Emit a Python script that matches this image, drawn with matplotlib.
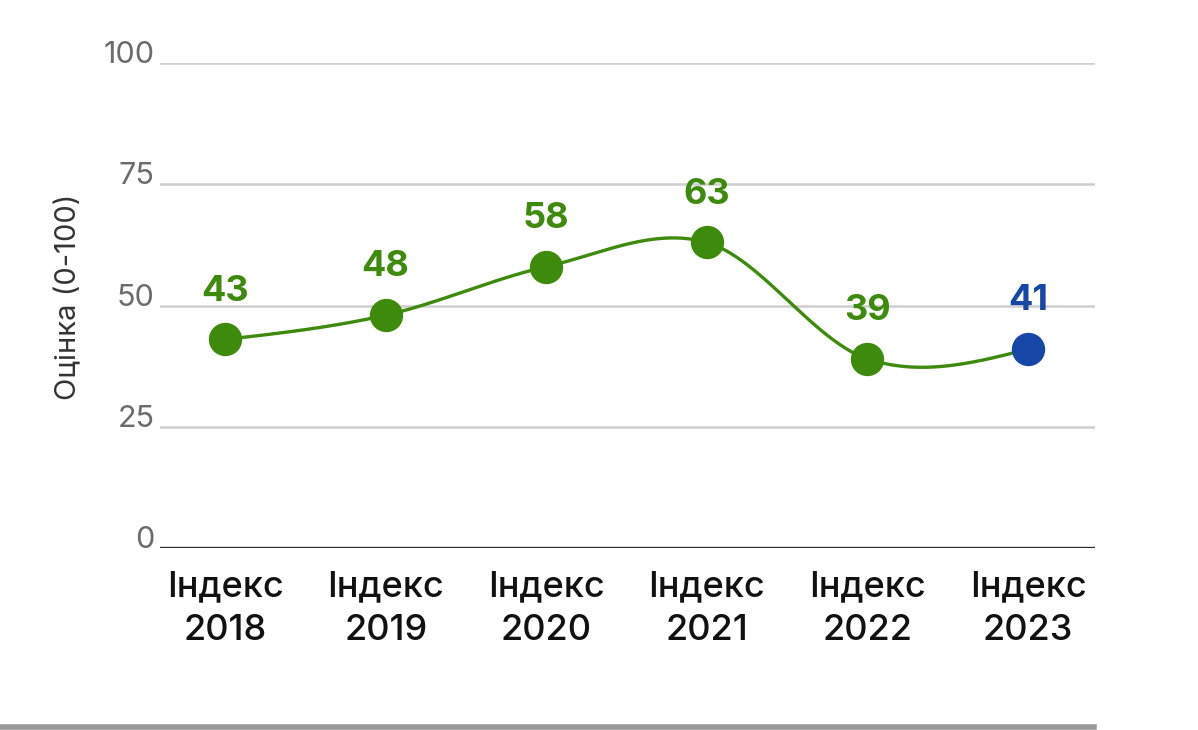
import numpy as np
import matplotlib.pyplot as plt
from matplotlib.lines import Line2D

plt.rcParams['font.family'] = ['Inter', 'Open Sans', 'DejaVu Sans']

# дані
years = ['2018', '2019', '2020', '2021', '2022', '2023']
labels = ['Індекс\n' + y for y in years]
scores = [43, 48, 58, 63, 39, 41]
y_ticks = [0, 25, 50, 75, 100]

green = '#3e8a0c'
blue = '#1747a6'


def smooth(xs, ys, n=80):
    # кубічна крива Ерміта: дотичні Катмулла-Рома всередині, "вільні" кінці
    xs = np.asarray(xs, float)
    ys = np.asarray(ys, float)
    m = np.zeros_like(ys)
    m[1:-1] = (ys[2:] - ys[:-2]) / (xs[2:] - xs[:-2])
    m[0] = (3 * (ys[1] - ys[0]) / (xs[1] - xs[0]) - m[1]) / 2
    m[-1] = (3 * (ys[-1] - ys[-2]) / (xs[-1] - xs[-2]) - m[-2]) / 2
    out_x, out_y = [], []
    for i in range(len(xs) - 1):
        h = xs[i + 1] - xs[i]
        t = np.linspace(0, 1, n)
        h00 = 2 * t**3 - 3 * t**2 + 1
        h10 = t**3 - 2 * t**2 + t
        h01 = -2 * t**3 + 3 * t**2
        h11 = t**3 - t**2
        out_x.append(xs[i] + t * h)
        out_y.append(h00 * ys[i] + h10 * h * m[i] + h01 * ys[i + 1] + h11 * h * m[i + 1])
    return np.concatenate(out_x), np.concatenate(out_y)


x = np.arange(len(years))

fig = plt.figure(figsize=(11.98, 7.3), dpi=100)
ax = fig.add_axes([160 / 1198, 1 - 548 / 730, 935 / 1198, 485 / 730])
ax.set_xlim(-0.405, 5.417)
ax.set_ylim(0, 100)

# сітка
for v in y_ticks[1:]:
    ax.axhline(v, color='#cfcfcf', lw=1.8, zorder=1)
ax.axhline(0, color='#2b2b2b', lw=2.4, zorder=2)
for v in y_ticks:
    ax.text(-0.006, v, str(v), transform=ax.get_yaxis_transform(),
            ha='right', va='baseline', fontsize=22, color='#6b6b6b')

# лінія
sx, sy = smooth(x, scores)
ax.plot(sx, sy, color=green, lw=2.4, zorder=3, solid_capstyle='round')

colors = [green] * (len(years) - 1) + [blue]
for xi, yi, c in zip(x, scores, colors):
    ax.plot(xi, yi, 'o', ms=23, color=c, mec=c, zorder=4)
    ax.annotate(str(yi), (xi, yi), xytext=(0, 28), textcoords='offset points',
                ha='center', va='baseline', fontsize=26, fontweight='bold', color=c)

ax.set_xticks(x)
ax.set_xticklabels(labels, fontsize=26, color='#111111', linespacing=1.42,
                   fontweight='medium')
ax.tick_params(axis='x', length=0, pad=16)
ax.set_yticks([])
for s in ax.spines.values():
    s.set_visible(False)

fig.text(69 / 1198, 1 - 297 / 730, 'Оцінка (0-100)', rotation=90,
         ha='center', va='center', fontsize=21, color='#333333')

fig.add_artist(Line2D([0, 1094 / 1198], [1 - 727 / 730] * 2,
                      transform=fig.transFigure, color='#999999', lw=4))

fig.savefig('out.png', dpi=100)
